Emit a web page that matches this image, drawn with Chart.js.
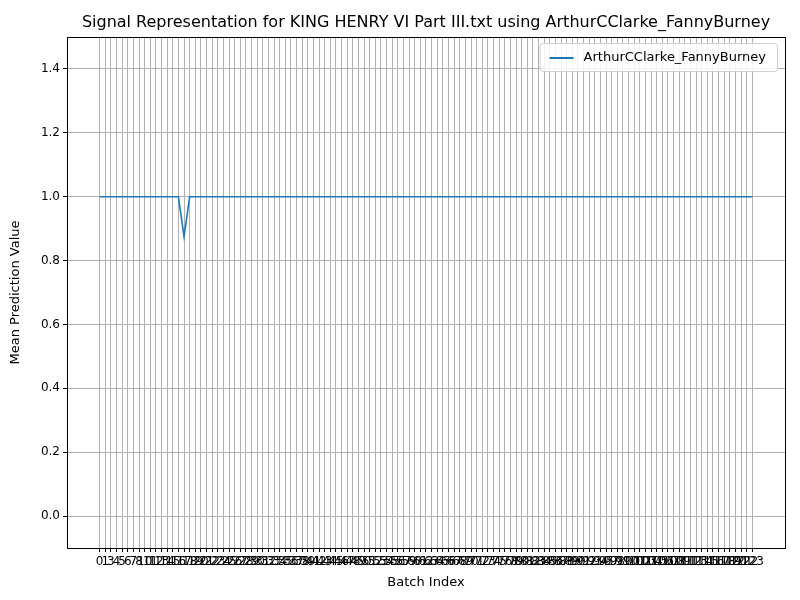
<!DOCTYPE html>
<html lang="en">
<head>
<meta charset="UTF-8">
<title>Signal Representation</title>
<script src="https://cdn.jsdelivr.net/npm/chart.js@4.4.0/dist/chart.umd.min.js"></script>
<style>body{margin:0;background:#fff}</style>
</head>
<body>
<canvas id="signalChart" width="800" height="600" style="width:800px;height:600px"></canvas>
<script>
    // batch indices (some batches missing)
    var batchLabels = [0,1,3,4,5,6,7,8,10,11,12,13,14,15,16,17,18,19,20,21,22,23,24,25,26,27,28,29,30,31,32,33,34,35,36,37,38,39,41,42,43,44,45,46,47,48,49,50,51,52,53,54,55,56,57,59,60,61,62,63,64,65,66,67,68,69,70,71,72,73,74,75,76,78,79,80,81,82,83,84,85,86,87,88,89,90,91,92,93,94,95,97,98,99,100,101,102,103,104,105,106,107,108,109,111,112,113,114,115,116,117,118,119,120,121,122,123];
    var meanValues = [];
    for (var i = 0; i < batchLabels.length; i++) meanValues.push(1.0);
    meanValues[15] = 0.875;
    var yTicks = [0.0, 0.2, 0.4, 0.6, 0.8, 1.0, 1.2, 1.4];
    var seriesName = "ArthurCClarke_FannyBurney";
    var titleText = "Signal Representation for KING HENRY VI Part III.txt using ArthurCClarke_FannyBurney";
    //
    var pts = meanValues.map(function(v, i){ return {x: i, y: v}; });
    var n = pts.length - 1;

    // frame, title over plot area, legend inside plot
    var decorations = {
        id: "decorations",
        afterDraw: function(chart){
            var c = chart.ctx, a = chart.chartArea;
            c.save();
            c.strokeStyle = "#000"; c.lineWidth = 1;
            c.strokeRect(Math.round(a.left) + 0.5, Math.round(a.top) + 0.5,
                         Math.round(a.right - a.left), Math.round(a.bottom - a.top));
            c.fillStyle = "#000";
            c.font = "16px 'DejaVu Sans'";
            c.textAlign = "center"; c.textBaseline = "middle";
            c.fillText(titleText, (a.left + a.right) / 2, 23);
            c.textAlign = "left";
            c.font = "13px 'DejaVu Sans'";
            var w = c.measureText(seriesName).width + 55, h = 28;
            var x = a.right - w - 8, y = a.top + 6;
            c.fillStyle = "rgba(255,255,255,0.85)";
            c.strokeStyle = "#d0d0d0";
            c.beginPath(); c.roundRect(x + 0.5, y + 0.5, w, h, 3); c.fill(); c.stroke();
            c.strokeStyle = "#1f77b4"; c.lineWidth = 2;
            c.beginPath(); c.moveTo(x + 10, y + 15); c.lineTo(x + 34, y + 15); c.stroke();
            c.fillStyle = "#000";
            c.fillText(seriesName, x + 44, y + 15);
            c.restore();
        }
    };

    var chart = new Chart("signalChart", {
        type: "line",
        data: {
            datasets: [{
                label: seriesName,
                data: pts,
                borderColor: "#1f77b4",
                borderWidth: 1.6,
                pointRadius: 0,
                tension: 0
            }]
        },
        options: {
            responsive: false,
            animation: false,
            layout: {padding: {top: 37, right: 15, bottom: 10, left: 8}},
            plugins: {
                legend: {display: false},
                tooltip: {enabled: false}
            },
            scales: {
                x: {
                    type: "linear",
                    min: -n * 0.05,
                    max: n * 1.05,
                    afterBuildTicks: function(ax){
                        ax.ticks = batchLabels.map(function(b, i){ return {value: i}; });
                    },
                    ticks: {
                        autoSkip: false, maxRotation: 0, minRotation: 0,
                        color: "#000", font: {family: "DejaVu Sans", size: 12},
                        callback: function(v){ return String(batchLabels[v]); }
                    },
                    grid: {color: "#b0b0b0", tickLength: 4, tickColor: "#000"},
                    border: {color: "#000"},
                    title: {display: true, text: "Batch Index", color: "#000",
                            padding: {top: 2, bottom: 0},
                            font: {family: "DejaVu Sans", size: 13}}
                },
                y: {
                    min: -0.1, max: 1.5,
                    afterBuildTicks: function(ax){
                        ax.ticks = yTicks.map(function(v){ return {value: v}; });
                    },
                    afterFit: function(ax){ ax.width = 59; },
                    ticks: {
                        color: "#000", font: {family: "DejaVu Sans", size: 12},
                        callback: function(v){ return v.toFixed(1); }
                    },
                    grid: {color: "#b0b0b0", tickLength: 4, tickColor: "#000"},
                    border: {color: "#000"},
                    title: {display: true, text: "Mean Prediction Value", color: "#000",
                            padding: {top: 0, bottom: 4},
                            font: {family: "DejaVu Sans", size: 13}}
                }
            }
        },
        plugins: [decorations]
    });
</script>
</body>
</html>
